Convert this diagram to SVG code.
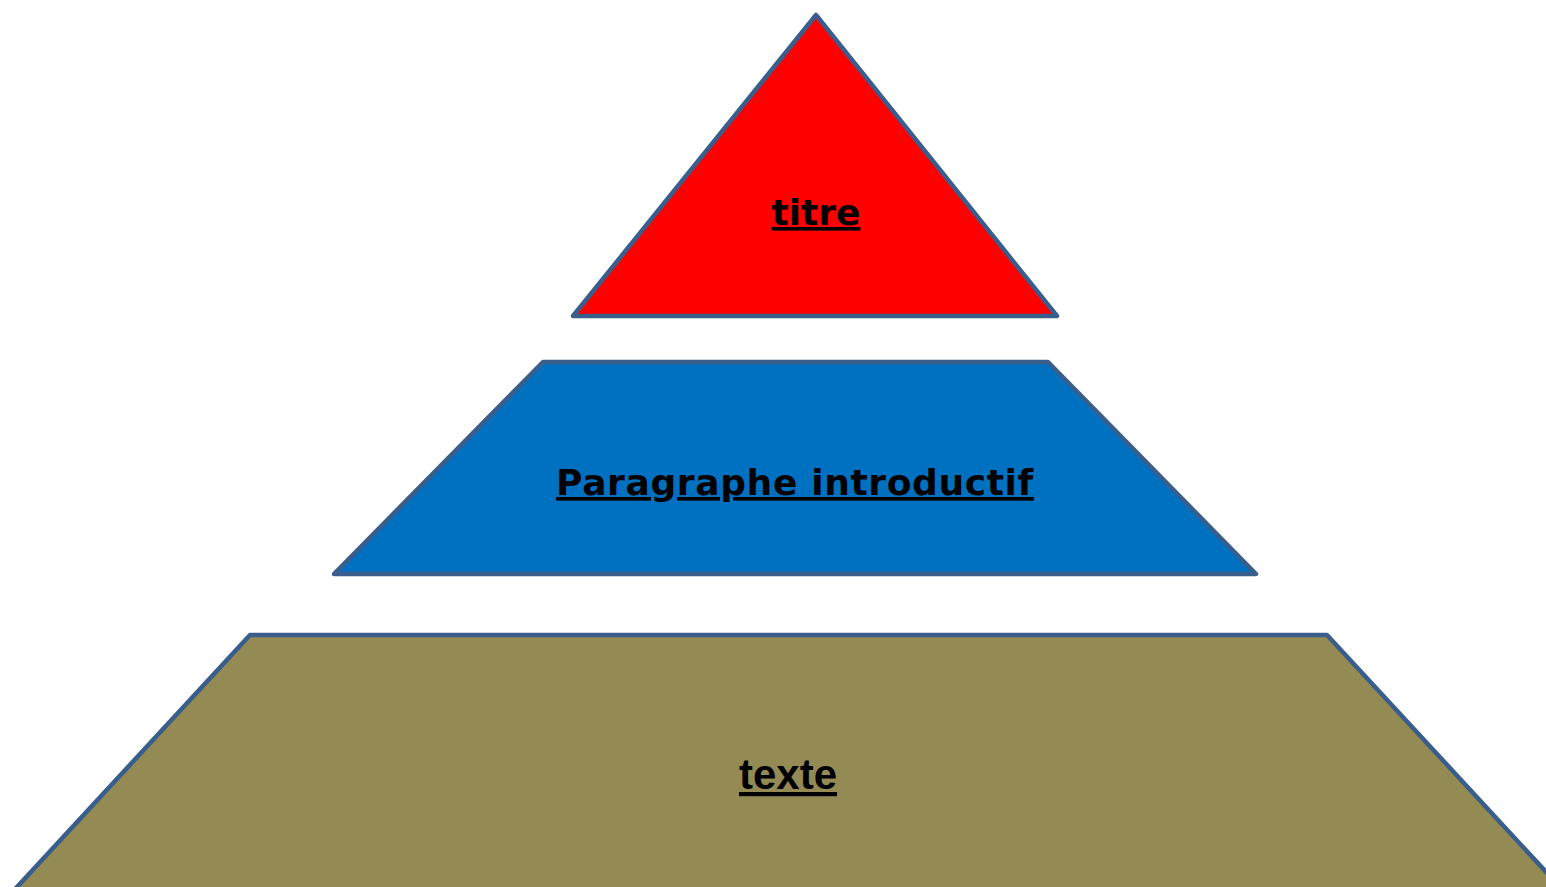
<svg xmlns="http://www.w3.org/2000/svg" width="1546" height="887" viewBox="0 0 1546 887">
<style>
.shape{stroke:#3A5E8C;stroke-width:4.5;stroke-linejoin:round}
.lbl{font-weight:bold;fill:#000;text-anchor:middle;text-decoration:underline}
.v{font-family:"DejaVu Sans",Verdana,sans-serif;font-size:36px}
.a{font-family:"Liberation Sans",Arial,sans-serif;font-size:42px}
</style>
<rect width="1546" height="887" fill="#FFFFFF"/>
<g id="node-titre">
<polygon class="shape" points="816,15 1057,316 573,316" fill="#FF0000"/>
<text class="lbl v" x="816" y="225">titre</text>
</g>
<g id="node-paragraphe">
<polygon class="shape" points="543,362 1048,362 1256,574 334,574" fill="#0070C0"/>
<text class="lbl v" x="795" y="495" letter-spacing="0.65">Paragraphe introductif</text>
</g>
<g id="node-texte">
<polygon class="shape" points="250,635 1327,635 1572,900 5,900" fill="#948A54"/>
<text class="lbl a" x="788" y="789">texte</text>
</g>
<g id="connectors"></g>
</svg>
